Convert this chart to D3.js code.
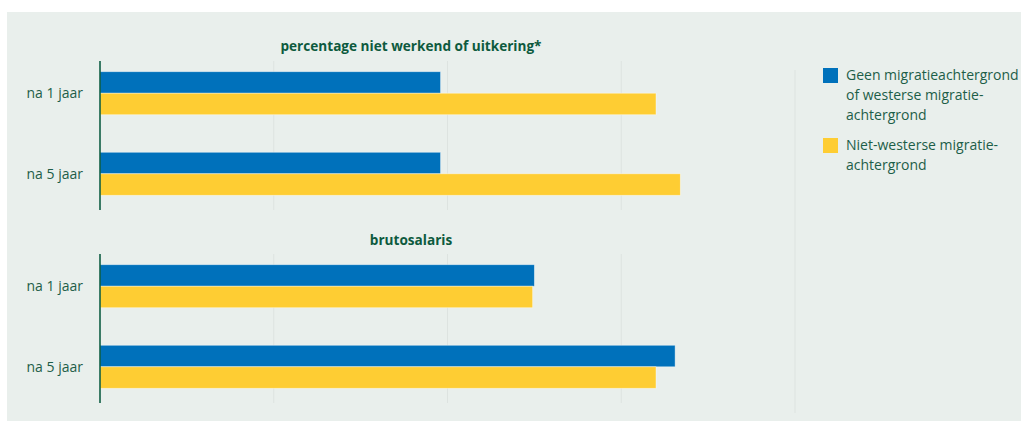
<!DOCTYPE html>
<html>
<head>
<meta charset="utf-8">
<script src="https://cdn.jsdelivr.net/npm/d3@7"></script>
<style>
    body { margin: 0; background: #fff; }
    svg { display: block; }
</style>
</head>
<body>
<div id="chart"></div>
<script>
// data
const periods = ["na 1 jaar", "na 5 jaar"]
const seriesNames = ["Geen migratieachtergrond of westerse migratie-achtergrond", "Niet-westerse migratie-achtergrond"]
const panelTitles = ["percentage niet werkend of uitkering*", "brutosalaris"]
// values per panel, [blue, yellow] per period
const nietWerkend = [[19.6, 32.0], [19.6, 33.4]]
const brutosalaris = [[25.0, 24.9], [33.1, 32.0]]
const gridTicks = [10, 20, 30]
const legendLines = [["Geen migratieachtergrond", "of westerse migratie-", "achtergrond"], ["Niet-westerse migratie-", "achtergrond"]]

const width = 1021, height = 421
const colors = ["#0071bb", "#fecd33"]
const textColor = "#1d5e48"
const titleColor = "#0d5a3e"
const font = "'Open Sans', sans-serif"

const svg = d3.select("#chart").append("svg")
    .attr("width", width)
    .attr("height", height)

// background panel
svg.append("rect")
    .attr("x", 7).attr("y", 12)
    .attr("width", width - 7).attr("height", height - 12)
    .attr("fill", "#e9efec")

const xScale = d3.scaleLinear()
    .domain([0, 40])
    .range([100, 795])

// separator line between chart and legend
svg.append("line")
    .attr("x1", xScale(40)).attr("x2", xScale(40))
    .attr("y1", 70).attr("y2", 413)
    .attr("stroke", "#dde3e0")
    .attr("stroke-width", 1)

const panels = [
    { title: panelTitles[0], values: nietWerkend, top: 61, titleY: 51 },
    { title: panelTitles[1], values: brutosalaris, top: 254, titleY: 245 }
]

const panelHeight = 149

panels.forEach(p => {
    const g = svg.append("g")

    // gridlines
    g.selectAll(".grid")
        .data(gridTicks)
        .enter().append("line")
        .attr("x1", d => xScale(d)).attr("x2", d => xScale(d))
        .attr("y1", p.top).attr("y2", p.top + panelHeight)
        .attr("stroke", "#dde3e0")

    const yScale = d3.scaleBand()
        .domain(periods)
        .range([p.top + 10.7, p.top + 134.3])
        .paddingInner(0.466)

    const ySub = d3.scaleBand()
        .domain([0, 1])
        .range([0, yScale.bandwidth()])

    const groups = g.selectAll(".group")
        .data(periods)
        .enter().append("g")
        .attr("transform", d => `translate(0,${yScale(d)})`)

    groups.selectAll("rect")
        .data((d, i) => p.values[i].map((v, j) => ({ v, j })))
        .enter().append("rect")
        .attr("x", xScale(0))
        .attr("y", d => ySub(d.j))
        .attr("width", d => xScale(d.v) - xScale(0))
        .attr("height", ySub.bandwidth())
        .attr("fill", d => colors[d.j])
        .attr("stroke", "rgba(255,255,255,0.5)")
        .attr("stroke-width", 0.8)

    // category labels
    groups.append("text")
        .attr("x", 83)
        .attr("y", yScale.bandwidth() / 2)
        .attr("dy", "0.35em")
        .attr("text-anchor", "end")
        .style("font-family", font)
        .style("font-size", "14px")
        .attr("fill", textColor)
        .text(d => d)

    // axis line
    g.append("line")
        .attr("x1", xScale(0)).attr("x2", xScale(0))
        .attr("y1", p.top).attr("y2", p.top + panelHeight)
        .attr("stroke", "#00553a")
        .attr("stroke-width", 1.5)

    // panel title
    g.append("text")
        .attr("x", 411)
        .attr("y", p.titleY)
        .attr("text-anchor", "middle")
        .style("font-family", font)
        .style("font-size", "13.6px")
        .style("font-weight", "bold")
        .attr("fill", titleColor)
        .text(p.title)
})

// legend
const legendTop = [68, 138]
const legend = svg.append("g")
legendLines.forEach((lines, i) => {
    legend.append("rect")
        .attr("x", 823).attr("y", legendTop[i])
        .attr("width", 15).attr("height", 15)
        .attr("fill", colors[i])
    const t = legend.append("text")
        .attr("x", 846)
        .attr("y", legendTop[i] + 12)
        .style("font-family", font)
        .style("font-size", "14px")
        .attr("fill", textColor)
    t.selectAll("tspan")
        .data(lines)
        .enter().append("tspan")
        .attr("x", 846)
        .attr("dy", (d, k) => k == 0 ? 0 : 20)
        .text(d => d)
})
</script>
</body>
</html>
